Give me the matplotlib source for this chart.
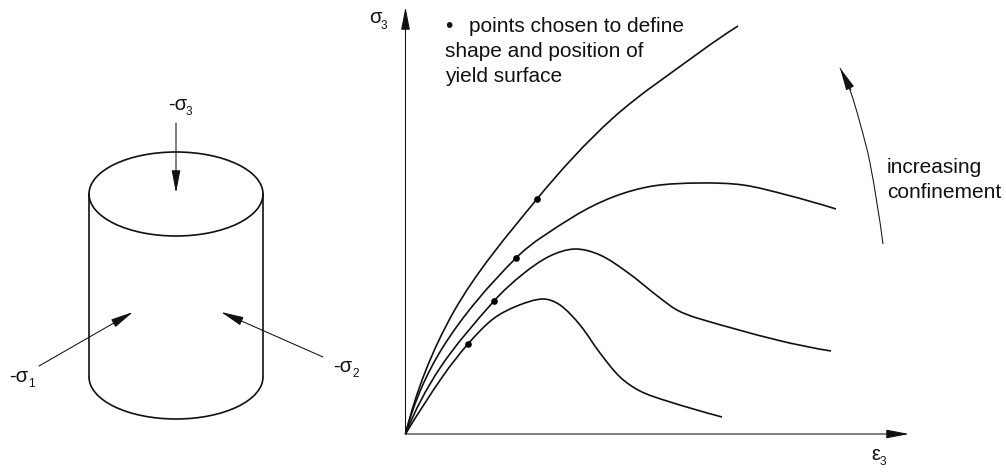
import numpy as np
import matplotlib
matplotlib.use('Agg')
import matplotlib.pyplot as plt
from matplotlib.patches import Arc, FancyArrowPatch, PathPatch
from matplotlib.path import Path

plt.rcParams['font.family'] = ['Liberation Sans', 'DejaVu Sans']

# curves, axes run in image pixels
curve_a_x = [405.5, 453, 537, 613, 700, 738]
curve_a_y = [434, 313, 199, 118, 52, 26]
curve_b_x = [405.5, 443, 516, 573, 613, 653, 700, 743, 787, 836]
curve_b_y = [434, 347, 258, 217, 197, 186, 183, 185, 195, 209]
curve_c_x = [405.5, 440, 494, 523, 550, 575, 600, 627, 660, 677, 697, 777, 831]
curve_c_y = [434, 368, 301, 274, 256, 249, 255, 272, 298, 310, 318, 340, 351]
curve_d_x = [405.5, 443, 468, 493, 517, 543, 560, 580, 600, 620, 640, 667, 722]
curve_d_y = [434, 376, 344, 319, 306, 299, 305, 325, 353, 377, 391, 401, 417]
curves = [(curve_a_x, curve_a_y), (curve_b_x, curve_b_y),
          (curve_c_x, curve_c_y), (curve_d_x, curve_d_y)]

# chosen points on each curve
points_x = [537, 516, 494, 468]
points_y = [199, 258, 301, 344]

# curved arrow next to "increasing confinement"
trend_x = [883, 870, 860, 850, 840]
trend_y = [244, 163, 123, 90, 68]

# cylinder sketch
cyl_left = 89
cyl_right = 263
cyl_top_y = 194
cyl_bot_y = 377
cyl_ellipse_h = 84

# load arrows: start x, start y, end x, end y
load_arrows = [(176, 123, 176, 193), (39, 366, 133, 312), (323, 357, 221, 312)]

# label, x, baseline y, subscript, sub x, sub baseline y
symbol_labels = [('-σ', 168, 110, '3', 186, 115),
                 ('-σ', 9, 382, '1', 28, 387),
                 ('-σ', 333, 372, '2', 352, 377),
                 ('σ', 369, 23, '3', 381, 29),
                 ('ε', 871, 460, '3', 880, 465)]

note_lines = ['shape and position of', 'yield surface']
side_lines = ['increasing', 'confinement']


def smooth_path(xs, ys):
    # bezier through the read points, handles scaled to each segment length
    pts = np.column_stack([xs, ys]).astype(float)
    gaps = np.hypot(*np.diff(pts, axis=0).T)
    tang = np.zeros_like(pts)
    tang[1:-1] = (pts[2:] - pts[:-2]) / (gaps[1:] + gaps[:-1])[:, None]
    tang[0] = 2 * (pts[1] - pts[0]) / gaps[0] - tang[1]
    tang[-1] = 2 * (pts[-1] - pts[-2]) / gaps[-1] - tang[-2]
    verts = [pts[0]]
    codes = [Path.MOVETO]
    for i in range(len(pts) - 1):
        verts += [pts[i] + tang[i] * gaps[i] / 3,
                  pts[i + 1] - tang[i + 1] * gaps[i] / 3,
                  pts[i + 1]]
        codes += [Path.CURVE4] * 3
    return Path(verts, codes)


def arrow(ax, start, end, lw=0.75):
    style = '-|>,head_length=%g,head_width=%g' % (14.0, 2.7)
    ax.add_patch(FancyArrowPatch(start, end, arrowstyle=style, mutation_scale=1,
                                 shrinkA=0, shrinkB=0, lw=lw, color='#111111', zorder=4))


fig = plt.figure(figsize=(10.06, 4.73), dpi=100)
ax = fig.add_axes([0, 0, 1, 1])
ax.set_xlim(0, 1006)
ax.set_ylim(473, 0)
ax.axis('off')

# plot side
arrow(ax, (405.5, 434), (405.5, 7))
arrow(ax, (405.5, 434), (909, 434))
for xs, ys in curves:
    ax.add_patch(PathPatch(smooth_path(xs, ys), fill=False, lw=1.2, ec='#111111'))
ax.plot(points_x, points_y, 'o', color='black', ms=4.8, mew=0)

trend = smooth_path(trend_x, trend_y)
ax.add_patch(PathPatch(trend, fill=False, lw=0.75, ec='#111111'))
arrow(ax, (trend_x[-2] + 1, trend_y[-2]), (trend_x[-1], trend_y[-1]))

# cylinder
cx = (cyl_left + cyl_right) / 2
cw = cyl_right - cyl_left
ax.add_patch(Arc((cx, cyl_top_y), cw, cyl_ellipse_h, lw=1.2, color='#111111'))
ax.add_patch(Arc((cx, cyl_bot_y), cw, cyl_ellipse_h, theta1=0, theta2=180, lw=1.2, color='#111111'))
ax.plot([cyl_left, cyl_left], [cyl_top_y, cyl_bot_y], color='#111111', lw=1.2)
ax.plot([cyl_right, cyl_right], [cyl_top_y, cyl_bot_y], color='#111111', lw=1.2)
for x0, y0, x1, y1 in load_arrows:
    arrow(ax, (x0, y0), (x1, y1))

# text
for label, x, y, sub, sx, sy in symbol_labels:
    ax.text(x, y, label, fontsize=14.5, va='baseline', color='#111111')
    ax.text(sx, sy, sub, fontsize=8.5, va='baseline', color='#111111')

ax.text(445, 32, '•', fontsize=15, va='baseline', color='#111111')
ax.text(469, 32, 'points chosen to define', fontsize=15, va='baseline', color='#111111')
for line, y in zip(note_lines, [57, 82]):
    ax.text(445, y, line, fontsize=15, va='baseline', color='#111111')
for line, y in zip(side_lines, [173, 198]):
    ax.text(887, y, line, fontsize=15, va='baseline', color='#111111')

fig.savefig('out.png', dpi=100)
